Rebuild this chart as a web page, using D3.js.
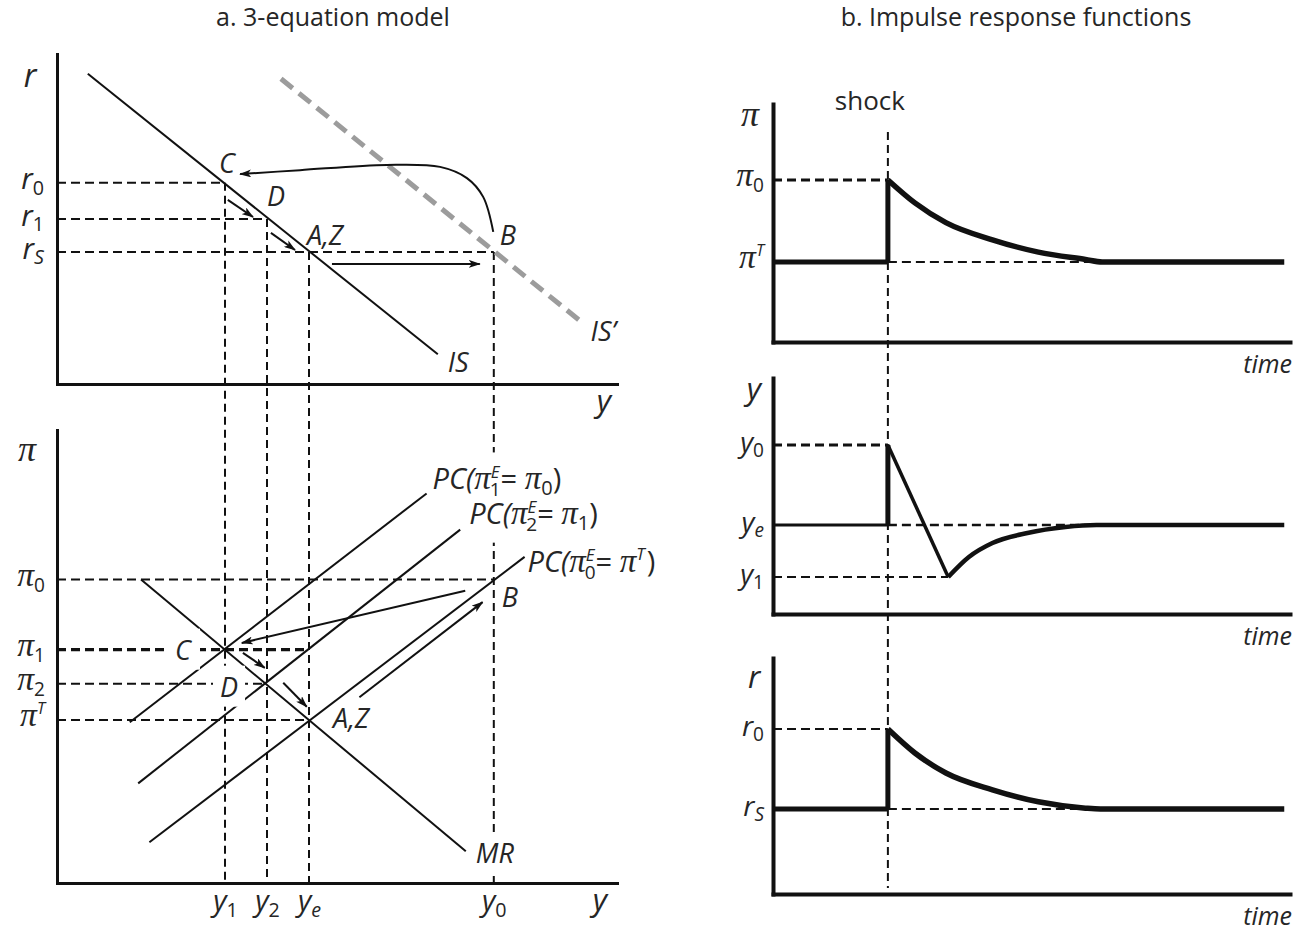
<!DOCTYPE html>
<html>
<head>
<meta charset="utf-8">
<script src="https://cdn.jsdelivr.net/npm/d3@7"></script>
<style>
  body { margin: 0; background: #fff; }
  svg { display: block; }
</style>
</head>
<body>
<div id="divChart"></div>
<script>
// values
// panel a uses model units 0-100 on every axis

// output levels y1, y2, ye, y0
var yLevels = [30, 37.5, 45, 78]
var yLevelLabels = [['y', '1'], ['y', '2'], ['y', 'e'], ['y', '0']]
// interest rates r0, r1, rS
var rLevels = [61, 50, 40]
var rLevelLabels = [['r', '0'], ['r', '1'], ['r', 'S']]
// inflation pi0, pi1, pi2, piT
var piLevels = [67, 51.5, 44, 36]
var piLevelLabels = [['π', '0'], ['π', '1'], ['π', '2'], ['π', '', 'T']]

// curves as end points [y, r] or [y, pi]
var isCurve = [[5.5, 94], [68, 9]]
var isShifted = [[40, 92.5], [93.5, 19]]
var mrCurve = [[15, 67], [73, 7]]
var pcCurves = [
  [[13, 35.5], [66, 86]],
  [[14.5, 22], [72, 78]],
  [[16.5, 9], [83.5, 72]]
]
// PC(pi_t^E = ...) : period, right hand side sub, right hand side sup
var pcLabels = [['1', '0', ''], ['2', '1', ''], ['0', '', 'T']]

// adjustment arrows
var topArrows = [
  [[30.5, 55.8], [35, 50.6]],
  [[38.2, 45.8], [42.5, 40.6]],
  [[49.1, 36.4], [75.5, 36.4]]
]
var topCurvedArrow = [[77.9, 46.1], [76.1, 56.7], [73.2, 62.4], [68.4, 65.8], [58.9, 66.4], [43.4, 64.8], [32.7, 63.6]]
var bottomArrows = [
  [[72.9, 64.5], [33, 53]],
  [[54, 41], [76, 62]],
  [[33.2, 50.8], [37.1, 47.5]],
  [[40.4, 44.2], [44.6, 38.9]]
]

// panel b: time in periods, responses relative to steady state (shock = 1)
var tShock = 2
var piResponse = [[2, 1], [2.47, 0.72], [3.01, 0.48], [3.82, 0.27], [4.62, 0.12], [5.44, 0.03], [5.73, 0], [8.9, 0]]
var yDrop = [[2, 1], [3.05, -0.65]]
var yResponse = [[3.05, -0.65], [3.41, -0.4], [3.82, -0.225], [4.43, -0.1], [5.09, -0.025], [5.63, 0], [8.9, 0]]
var rResponse = [[2, 1], [2.47, 0.7], [3.01, 0.45], [3.82, 0.24], [4.62, 0.09], [5.44, 0.01], [5.7, 0], [8.9, 0]]
var yTrough = -0.65

// layout settings
var layout = {
  width: 1299,
  height: 933,
  aLeft: 57,
  aRight: 617,
  aTop: [54, 384],
  aBottom: [430, 883],
  bLeft: 773,
  bRight: 1290,
  irf: [[104, 342], [378, 614], [658, 894]]
}
var sans = "'Open Sans', 'Noto Sans', sans-serif"
var serif = "'Liberation Serif', 'DejaVu Serif', serif"
var ink = '#111'
var textInk = '#262626'

var svg = d3.select('#divChart')
  .append('svg')
  .attr('width', layout.width)
  .attr('height', layout.height)

svg.append('defs')
  .append('marker')
  .attr('id', 'arrowHead')
  .attr('viewBox', '0 0 12 8')
  .attr('refX', 11)
  .attr('refY', 4)
  .attr('markerWidth', 12)
  .attr('markerHeight', 8)
  .attr('markerUnits', 'userSpaceOnUse')
  .attr('orient', 'auto')
  .append('path')
  .attr('d', 'M0,0 L12,4 L0,8 L3,4 Z')
  .attr('fill', ink)

// writes a symbol with optional subscript / superscript into a text element
function writeSymbol (text, label, size) {
  var base = label[0]
  var sub = label[1]
  var sup = label[2]
  text.text(null)
  text.append('tspan')
    .attr('font-family', base === 'π' ? serif : sans)
    .attr('font-style', 'italic')
    .attr('font-size', base === 'π' ? size * 1.2 : size)
    .text(base)
  if (sub) {
    text.append('tspan')
      .attr('font-family', sans)
      .attr('font-style', /[a-zA-Z]/.test(sub) ? 'italic' : 'normal')
      .attr('font-size', size * 0.68)
      .attr('dy', size * 0.2)
      .text(sub)
  }
  if (sup) {
    text.append('tspan')
      .attr('font-family', sans)
      .attr('font-style', 'italic')
      .attr('font-size', size * 0.58)
      .attr('dy', -size * 0.45)
      .text(sup)
  }
}

function plainLabel (g, x, y, str, size, anchor) {
  return g.append('text')
    .attr('x', x)
    .attr('y', y)
    .attr('font-family', sans)
    .attr('font-style', 'italic')
    .attr('font-size', size)
    .attr('text-anchor', anchor || 'start')
    .attr('fill', textInk)
    .text(str)
}

// white box (in its own layer) behind a label so lines underneath are hidden
function addBackground (layer, text, padX, padY) {
  var box = text.node().getBBox()
  layer.append('rect')
    .attr('x', box.x - padX)
    .attr('y', box.y - padY)
    .attr('width', box.width + 2 * padX)
    .attr('height', box.height + 2 * padY)
    .attr('fill', '#fff')
}

// titles
svg.append('text')
  .attr('x', 333).attr('y', 26)
  .attr('text-anchor', 'middle')
  .attr('font-family', sans).attr('font-size', 25)
  .attr('fill', textInk)
  .text('a. 3-equation model')
svg.append('text')
  .attr('x', 1016).attr('y', 26)
  .attr('text-anchor', 'middle')
  .attr('font-family', sans).attr('font-size', 25)
  .attr('fill', textInk)
  .text('b. Impulse response functions')

// ---------------- panel a ----------------
var xA = d3.scaleLinear().domain([0, 100]).range([layout.aLeft, layout.aRight])
var rA = d3.scaleLinear().domain([0, 100]).range([layout.aTop[1], layout.aTop[0]])
var piA = d3.scaleLinear().domain([0, 100]).range([layout.aBottom[1], layout.aBottom[0]])

var gA = svg.append('g').attr('id', 'g-panelA')
var lineTop = d3.line().x(function (d) { return xA(d[0]) }).y(function (d) { return rA(d[1]) })
var lineBot = d3.line().x(function (d) { return xA(d[0]) }).y(function (d) { return piA(d[1]) })

// dashed guides: [level, output level it runs to, width]
var topGuides = [[rLevels[0], yLevels[0]], [rLevels[1], yLevels[1]], [rLevels[2], yLevels[3]]]
var botGuides = [[piLevels[0], yLevels[3], 2], [piLevels[1], yLevels[2], 3.2], [piLevels[2], yLevels[1], 2], [piLevels[3], yLevels[2], 2]]
var vertGuides = [[yLevels[0], rLevels[0]], [yLevels[1], rLevels[1]], [yLevels[2], rLevels[2]], [yLevels[3], rLevels[2]]]

gA.selectAll('.guideTop')
  .data(topGuides)
  .enter()
  .append('path')
  .attr('d', function (d) { return lineTop([[0, d[0]], [d[1], d[0]]]) })
  .attr('stroke', ink).attr('stroke-width', 2).attr('stroke-dasharray', '9,5').attr('fill', 'none')
gA.selectAll('.guideBot')
  .data(botGuides)
  .enter()
  .append('path')
  .attr('d', function (d) { return lineBot([[0, d[0]], [d[1], d[0]]]) })
  .attr('stroke', ink).attr('stroke-width', function (d) { return d[2] }).attr('stroke-dasharray', '9,5').attr('fill', 'none')
gA.selectAll('.guideVert')
  .data(vertGuides)
  .enter()
  .append('line')
  .attr('x1', function (d) { return xA(d[0]) })
  .attr('x2', function (d) { return xA(d[0]) })
  .attr('y1', function (d) { return rA(d[1]) })
  .attr('y2', piA(0))
  .attr('stroke', ink).attr('stroke-width', 2).attr('stroke-dasharray', '8,5')

// IS curves
gA.append('path').attr('d', lineTop(isShifted))
  .attr('stroke', '#9c9c9c').attr('stroke-width', 5).attr('stroke-dasharray', '15,8').attr('fill', 'none')
gA.append('path').attr('d', lineTop(isCurve))
  .attr('stroke', ink).attr('stroke-width', 2).attr('fill', 'none')

// MR and PC curves
gA.append('path').attr('d', lineBot(mrCurve))
  .attr('stroke', ink).attr('stroke-width', 2).attr('fill', 'none')
gA.selectAll('.pc')
  .data(pcCurves)
  .enter()
  .append('path')
  .attr('d', lineBot)
  .attr('stroke', ink).attr('stroke-width', 2).attr('fill', 'none')

// label layers: backgrounds below the texts
var bgLayer = gA.append('g').attr('id', 'g-labelBg')
var labelLayer = gA.append('g').attr('id', 'g-labels')

// axes of panel a
var yAxisTop = d3.axisLeft(rA).tickValues(rLevels).tickSize(0).tickSizeOuter(0)
var yAxisBot = d3.axisLeft(piA).tickValues(piLevels).tickSize(0).tickSizeOuter(0)
var xAxisTop = d3.axisBottom(xA).tickValues([]).tickSizeOuter(0)
var xAxisBot = d3.axisBottom(xA).tickValues(yLevels).tickSize(0).tickSizeOuter(0)

function styleAxis (g, width) {
  g.select('.domain').attr('stroke', ink).attr('stroke-width', width).attr('stroke-linecap', 'square')
}
function leftLabels (g, labels, size, pad) {
  g.selectAll('.tick text')
    .attr('x', -pad)
    .attr('dy', null)
    .attr('y', 6)
    .attr('fill', textInk)
    .attr('text-anchor', 'end')
    .each(function (d, i) { writeSymbol(d3.select(this), labels[i], size) })
}

gA.append('g').attr('transform', 'translate(' + xA(0) + ',0)').call(yAxisTop)
  .call(styleAxis, 3).call(leftLabels, rLevelLabels, 29, 13)
gA.append('g').attr('transform', 'translate(' + xA(0) + ',0)').call(yAxisBot)
  .call(styleAxis, 3).call(leftLabels, piLevelLabels, 28, 12)
gA.append('g').attr('transform', 'translate(0,' + rA(0) + ')').call(xAxisTop).call(styleAxis, 3)
gA.append('g').attr('transform', 'translate(0,' + piA(0) + ')').call(xAxisBot).call(styleAxis, 3)
  .selectAll('.tick text')
  .attr('y', 28)
  .attr('dy', null)
  .attr('fill', textInk)
  .each(function (d, i) { writeSymbol(d3.select(this), yLevelLabels[i], 29) })

// axis names
plainLabel(labelLayer, 30, 87, 'r', 32, 'middle')
plainLabel(labelLayer, 604, 412, 'y', 31, 'middle')
plainLabel(labelLayer, 600, 911, 'y', 31, 'middle')
labelLayer.append('text').attr('x', 27).attr('y', 461)
  .attr('text-anchor', 'middle').attr('font-family', serif).attr('font-style', 'italic')
  .attr('font-size', 36).attr('fill', textInk).text('π')

// point labels: text, anchor in model units, pixel offset, top/bottom diagram, boxed
var pointLabels = [
  ['C', yLevels[0], rLevels[0], -6, -10, 'top', false],
  ['D', yLevels[1], rLevels[1], 0, -13, 'top', false],
  ['A,Z', yLevels[2], rLevels[2], -2, -7, 'top', false],
  ['B', yLevels[3], rLevels[2], 6, -7, 'top', false],
  ['IS', isCurve[1][0], isCurve[1][1], 10, 18, 'top', false],
  ['IS\u2019', isShifted[1][0], isShifted[1][1], 10, 20, 'top', false],
  ['C', yLevels[0], piLevels[1], -50, 10, 'bot', true],
  ['D', yLevels[1], piLevels[2], -47, 13, 'bot', true],
  ['A,Z', yLevels[2], piLevels[3], 24, 8, 'bot', false],
  ['B', yLevels[3], piLevels[0], 8, 28, 'bot', false],
  ['MR', mrCurve[1][0], mrCurve[1][1], 10, 12, 'bot', true]
]
pointLabels.forEach(function (d) {
  var px = xA(d[1]) + d[3]
  var py = (d[5] === 'top' ? rA(d[2]) : piA(d[2])) + d[4]
  var t = plainLabel(labelLayer, px, py, d[0], 27)
  if (d[6]) addBackground(bgLayer, t, 7, 2)
})

// PC labels at the upper end of each PC line
pcCurves.forEach(function (c, i) {
  var end = c[1]
  var offs = [[6, -4], [9, -6], [3, 15]][i]
  var lab = pcLabels[i]
  var t = labelLayer.append('text')
    .attr('x', xA(end[0]) + offs[0])
    .attr('y', piA(end[1]) + offs[1])
    .attr('font-family', sans).attr('font-size', 29).attr('fill', textInk)
  t.append('tspan').attr('font-style', 'italic').text('PC(')
  t.append('tspan').attr('font-family', serif).attr('font-style', 'italic').attr('font-size', 33).text('π')
  t.append('tspan').attr('font-style', 'italic').attr('font-size', 17).attr('dy', -11).text('E')
  t.append('tspan').attr('font-size', 19).attr('dx', -10).attr('dy', 18).text(lab[0])
  t.append('tspan').attr('dy', -7).text('= ')
  t.append('tspan').attr('font-family', serif).attr('font-style', 'italic').attr('font-size', 33).text('π')
  if (lab[1]) {
    t.append('tspan').attr('font-size', 20).attr('dy', 6).text(lab[1])
    t.append('tspan').attr('dy', -6).text(')')
  } else {
    t.append('tspan').attr('font-style', 'italic').attr('font-size', 17).attr('dy', -12).text(lab[2])
    t.append('tspan').attr('dx', 2).attr('dy', 12).text(')')
  }
  if (i < 2) addBackground(bgLayer, t, 4, 6)
})

// arrows
gA.selectAll('.arrowTop')
  .data(topArrows)
  .enter()
  .append('path')
  .attr('d', lineTop)
  .attr('stroke', ink).attr('stroke-width', 2).attr('fill', 'none')
  .attr('marker-end', 'url(#arrowHead)')
gA.append('path')
  .attr('d', lineTop.curve(d3.curveCatmullRom)(topCurvedArrow))
  .attr('stroke', ink).attr('stroke-width', 2).attr('fill', 'none')
  .attr('marker-end', 'url(#arrowHead)')
lineTop.curve(d3.curveLinear)
gA.selectAll('.arrowBot')
  .data(bottomArrows)
  .enter()
  .append('path')
  .attr('d', lineBot)
  .attr('stroke', ink).attr('stroke-width', 2).attr('fill', 'none')
  .attr('marker-end', 'url(#arrowHead)')

// ---------------- panel b ----------------
var tB = d3.scaleLinear().domain([0, 9]).range([layout.bLeft, layout.bRight])
var gB = svg.append('g').attr('id', 'g-panelB')

// settling time = first zero after the shock
function settleTime (series) {
  return series.filter(function (d) { return d[1] === 0 })[0][0]
}

var irfPanels = [
  { name: 'π', levels: [['π', '0'], ['π', '', 'T']], domain: [-0.975, 1.925], px: layout.irf[0], hiWidth: 3, loWidth: 2 },
  { name: 'y', levels: [['y', '0'], ['y', 'e'], ['y', '1']], domain: [-1.1125, 1.8375], px: layout.irf[1], hiWidth: 3, loWidth: 2.5 },
  { name: 'r', levels: [['r', '0'], ['r', 'S']], domain: [-1.0625, 1.8875], px: layout.irf[2], hiWidth: 2, loWidth: 2 }
]
irfPanels.forEach(function (p) {
  p.scale = d3.scaleLinear().domain(p.domain).range([p.px[1], p.px[0]])
  p.line = d3.line().x(function (d) { return tB(d[0]) }).y(function (d) { return p.scale(d[1]) })
})

// shock line
gB.append('line')
  .attr('x1', tB(tShock)).attr('x2', tB(tShock))
  .attr('y1', layout.irf[0][0] + 28).attr('y2', layout.irf[2][1] - 6)
  .attr('stroke', ink).attr('stroke-width', 2).attr('stroke-dasharray', '8,5')
gB.append('text')
  .attr('x', tB(tShock) - 18).attr('y', 110)
  .attr('text-anchor', 'middle')
  .attr('font-family', sans).attr('font-size', 26).attr('fill', textInk)
  .text('shock')

var responses = [piResponse, yResponse, rResponse]
irfPanels.forEach(function (p, i) {
  var g = gB.append('g')
  var settle = settleTime(responses[i])
  // dashed guides
  var guides = [[[0, 1], [tShock, 1], p.hiWidth], [[tShock, 0], [settle, 0], p.loWidth]]
  if (p.name === 'y') guides.push([[0, yTrough], [yDrop[1][0], yTrough], 2])
  g.selectAll('.guide')
    .data(guides)
    .enter()
    .append('path')
    .attr('d', function (d) { return p.line([d[0], d[1]]) })
    .attr('stroke', ink).attr('stroke-width', function (d) { return d[2] })
    .attr('stroke-dasharray', '9,5').attr('fill', 'none')

  // axes
  var tickVals = p.name === 'y' ? [1, 0, yTrough] : [1, 0]
  g.append('g').attr('transform', 'translate(' + tB(0) + ',0)')
    .call(d3.axisLeft(p.scale).tickValues(tickVals).tickSize(0).tickSizeOuter(0))
    .call(styleAxis, 4)
    .call(leftLabels, p.levels, 28, 9)
  g.append('g').attr('transform', 'translate(0,' + p.px[1] + ')')
    .call(d3.axisBottom(tB).tickValues([]).tickSizeOuter(0))
    .call(styleAxis, 4)

  // response before and at the shock
  g.append('path')
    .attr('d', p.line([[0, 0], [tShock, 0]]))
    .attr('stroke', ink).attr('stroke-width', p.name === 'y' ? 3 : 5).attr('fill', 'none')
  g.append('path')
    .attr('d', p.line([[tShock, 0], [tShock, 1]]))
    .attr('stroke', ink).attr('stroke-width', 5).attr('fill', 'none')
  if (p.name === 'y') {
    g.append('path').attr('d', p.line(yDrop))
      .attr('stroke', ink).attr('stroke-width', 3.5).attr('fill', 'none').attr('stroke-linejoin', 'round')
  }
  g.append('path')
    .attr('d', p.line.curve(d3.curveMonotoneX)(responses[i]))
    .attr('stroke', ink).attr('stroke-width', p.name === 'y' ? 4.5 : 5.5).attr('fill', 'none')
  p.line.curve(d3.curveLinear)

  // names
  if (p.name === 'π') {
    g.append('text').attr('x', 750).attr('y', p.px[0] + 22)
      .attr('text-anchor', 'middle').attr('font-family', serif).attr('font-style', 'italic')
      .attr('font-size', 36).attr('fill', textInk).text('π')
  } else {
    plainLabel(g, 754, p.px[0] + (p.name === 'y' ? 22 : 30), p.name, 31, 'middle')
  }
  plainLabel(g, 1292, p.px[1] + 31, 'time', 25, 'end')
})
</script>
</body>
</html>
